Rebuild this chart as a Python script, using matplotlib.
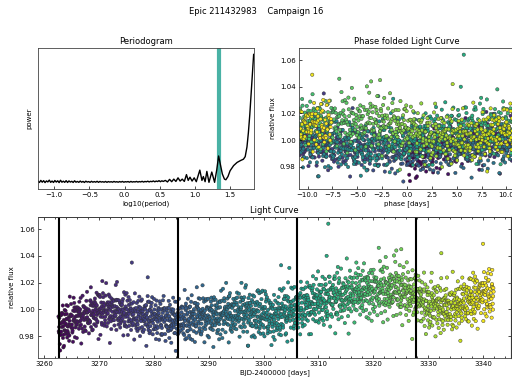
import numpy as np
import matplotlib
matplotlib.use("Agg")
import matplotlib.pyplot as plt
from matplotlib.ticker import MultipleLocator

# ---------------- data ----------------
title_text = "Epic 211432983    Campaign 16"

# periodogram: noisy baseline (short periods) then peaks
pg_base_logp_range = (-1.23, 0.55)
pg_base_power = [0.014,0.004,0.020,0.006,0.018,0.003,0.016,0.008,0.022,0.005,
                 0.015,0.004,0.019,0.007,0.017,0.003,0.021,0.006,0.014,0.005,
                 0.018,0.004,0.016,0.007,0.013,0.004,0.017,0.006,0.012,0.005,
                 0.015,0.006,0.012,0.004,0.014,0.007,0.011,0.005,0.013,0.006,
                 0.011,0.006,0.013,0.005,0.012,0.007,0.010,0.006,0.012,0.005,
                 0.011,0.007,0.010,0.006,0.012,0.007,0.010,0.006,0.011,0.007,
                 0.012,0.006,0.010,0.008,0.011,0.006,0.012,0.007,0.010,0.008,
                 0.012,0.007,0.011,0.008,0.013,0.007,0.012,0.009,0.014,0.008,
                 0.013,0.010,0.016,0.009,0.015,0.011,0.018,0.010,0.017,0.012]
pg_peak_logp = [0.58,0.61,0.64,0.67,0.70,0.73,0.76,0.79,0.82,0.85,0.88,0.905,0.93,
                0.96,0.99,1.02,1.07,1.10,1.12,1.145,1.17,1.20,1.24,1.28,1.31,1.337,
                1.36,1.39,1.42,1.44,1.47,1.50,1.55,1.60,1.65,1.69,1.715,1.74,1.76,
                1.78,1.80,1.815,1.835]
pg_peak_power = [0.020,0.008,0.028,0.010,0.030,0.012,0.040,0.015,0.030,0.012,0.065,0.020,0.045,
                 0.015,0.040,0.010,0.100,0.020,0.050,0.010,0.090,0.005,0.085,0.005,0.100,0.210,
                 0.150,0.070,0.030,0.025,0.050,0.095,0.135,0.160,0.175,0.185,0.205,0.280,0.390,
                 0.530,0.700,0.830,1.000]

best_period = 21.72        # days (log10 = 1.337)
t0 = 3262.65               # epoch of first vertical line

# light curve: 2-day bin medians and spreads
lc_knot_t = [3262.6,3264,3266,3268,3270,3272,3274,3276,3278,3280,3282,3284,3286,3288,
             3290,3292,3294,3296,3298,3300,3302,3304,3306,3308,3310,3312,3314,3316,
             3318,3320,3322,3324,3326,3328,3330,3332,3334,3336,3338,3340,3342]
lc_knot_med = [0.986,0.990,0.994,0.9965,0.999,1.000,0.998,0.996,0.995,0.994,0.993,0.9915,0.993,0.995,
               0.995,0.996,0.998,0.999,0.997,0.996,0.994,0.999,0.999,1.004,1.006,1.008,1.010,1.012,
               1.013,1.014,1.015,1.014,1.013,1.009,1.004,1.002,1.002,1.003,1.008,1.011,1.012]
lc_knot_sd = [0.0095,0.0082,0.0076,0.0076,0.0078,0.0078,0.0078,0.0078,0.0078,0.0078,0.0078,0.0080,0.0082,0.0085,
              0.0087,0.0087,0.0089,0.0089,0.0089,0.0092,0.0092,0.0094,0.0094,0.0094,0.0096,0.0096,0.0096,0.0096,
              0.0096,0.0096,0.0096,0.0096,0.0096,0.0094,0.0094,0.0092,0.0092,0.0094,0.0094,0.0094,0.0094]
lc_start, lc_end, lc_npoints = 3262.6, 3342.0, 2000

# individually visible outliers
out_t = [3276.0, 3278.9, 3272.0, 3297.2, 3311.8, 3311.5, 3321.0, 3324.2, 3325.1, 3332.4,
         3340.0, 3303.2, 3304.7, 3327.1, 3315.5]
out_f = [1.035, 1.024, 0.975, 0.973, 1.064, 1.040, 1.046, 1.044, 1.045, 1.042,
         1.049, 1.033, 1.031, 0.978, 0.982]

# ---------------- build point set (low-discrepancy placement) ----------------
def halton(idx, base):
    res = np.zeros(idx.shape, dtype=float)
    f = 1.0
    i = idx.astype(np.int64).copy()
    while np.any(i > 0):
        f /= base
        res += f * (i % base)
        i //= base
    return res

idx = np.arange(1, lc_npoints + 1)
t = lc_start + (lc_end - lc_start) * halton(idx, 2)
u1 = np.clip(halton(idx, 3), 1e-3, 1.0)
u2 = halton(idx, 5)
z = np.clip(np.sqrt(-2 * np.log(u1)) * np.cos(2 * np.pi * u2), -2.8, 2.8)
med = np.interp(t, lc_knot_t, lc_knot_med)
sd = np.interp(t, lc_knot_t, lc_knot_sd)
flux = med + sd * z
time = np.concatenate([t, out_t])
flux = np.concatenate([flux, out_f])
order = np.argsort(time)
time, flux = time[order], flux[order]
phase = ((time - t0 + best_period / 2) % best_period) - best_period / 2

pg_x = np.concatenate([np.linspace(*pg_base_logp_range, len(pg_base_power)), pg_peak_logp])
pg_y = np.concatenate([pg_base_power, pg_peak_power])

# ---------------- figure ----------------
fs_title, fs_lab, fs_tick = 6, 5, 5
fig = plt.figure(figsize=(5.12, 3.81), dpi=100)
fig.suptitle(title_text, fontsize=fs_title, y=0.982)

ax_pg = fig.add_axes([38/512, 192/381, 216/512, 141/381])
ax_ph = fig.add_axes([299/512, 192/381, 216/512, 141/381])
ax_lc = fig.add_axes([38/512, 23/381, 473/512, 141/381])

# periodogram
ax_pg.axvline(np.log10(best_period), color="#35aa9b", lw=3, alpha=0.9, zorder=1)
ax_pg.plot(pg_x, pg_y, color="black", lw=1.0, zorder=2)
ax_pg.set_xlim(-1.23, 1.84)
ax_pg.set_yticks([])
ax_pg.set_xlabel("log10(period)", fontsize=fs_lab, labelpad=1.5)
ax_pg.set_ylabel("power", fontsize=fs_lab, labelpad=4)
ax_pg.set_title("Periodogram", fontsize=fs_title, pad=3)

sc_kw = dict(c=time, cmap="viridis", vmin=time.min(), vmax=time.max(),
             s=6, edgecolors="#303030", linewidths=0.3)

# phase folded
ax_ph.scatter(phase, flux, **sc_kw)
ax_ph.set_xlim(-best_period / 2, best_period / 2)
ax_ph.set_ylim(0.9635, 1.069)
ax_ph.set_xlabel("phase [days]", fontsize=fs_lab, labelpad=1.5)
ax_ph.set_ylabel("relative flux", fontsize=fs_lab, labelpad=3)
ax_ph.set_title("Phase folded Light Curve", fontsize=fs_title, pad=3)
ax_ph.yaxis.set_major_locator(MultipleLocator(0.02))

# light curve
ax_lc.scatter(time, flux, **sc_kw)
for n in range(4):
    ax_lc.axvline(t0 + n * best_period, color="black", lw=1.5)
ax_lc.set_xlim(3258.9, 3345.1)
ax_lc.set_ylim(0.9638, 1.069)
ax_lc.set_xlabel("BJD-2400000 [days]", fontsize=fs_lab, labelpad=1.5)
ax_lc.set_ylabel("relative flux", fontsize=fs_lab, labelpad=3)
ax_lc.set_title("Light Curve", fontsize=fs_title, pad=3)
ax_lc.yaxis.set_major_locator(MultipleLocator(0.02))
ax_lc.xaxis.set_minor_locator(MultipleLocator(2))
ax_lc.tick_params(axis="x", which="minor", direction="in", length=1.5, width=0.5)
sec_x = ax_lc.secondary_xaxis("top")
sec_x.xaxis.set_major_locator(MultipleLocator(10))
sec_x.xaxis.set_minor_locator(MultipleLocator(2))
sec_x.tick_params(which="both", direction="in", labeltop=False, width=0.5)
sec_x.tick_params(which="major", length=2.5)
sec_x.tick_params(which="minor", length=1.5)
sec_x.spines["top"].set_linewidth(0.6)
sec_y = ax_lc.secondary_yaxis("right")
sec_y.yaxis.set_major_locator(MultipleLocator(0.02))
sec_y.tick_params(direction="in", labelright=False, length=2.5, width=0.5)

for ax in (ax_pg, ax_ph, ax_lc):
    ax.tick_params(which="major", labelsize=fs_tick, direction="in", length=2.5, width=0.5, pad=2.5)
    for sp in ax.spines.values():
        sp.set_linewidth(0.6)
        sp.set_color("#444444")

fig.savefig("out.png", dpi=100)
